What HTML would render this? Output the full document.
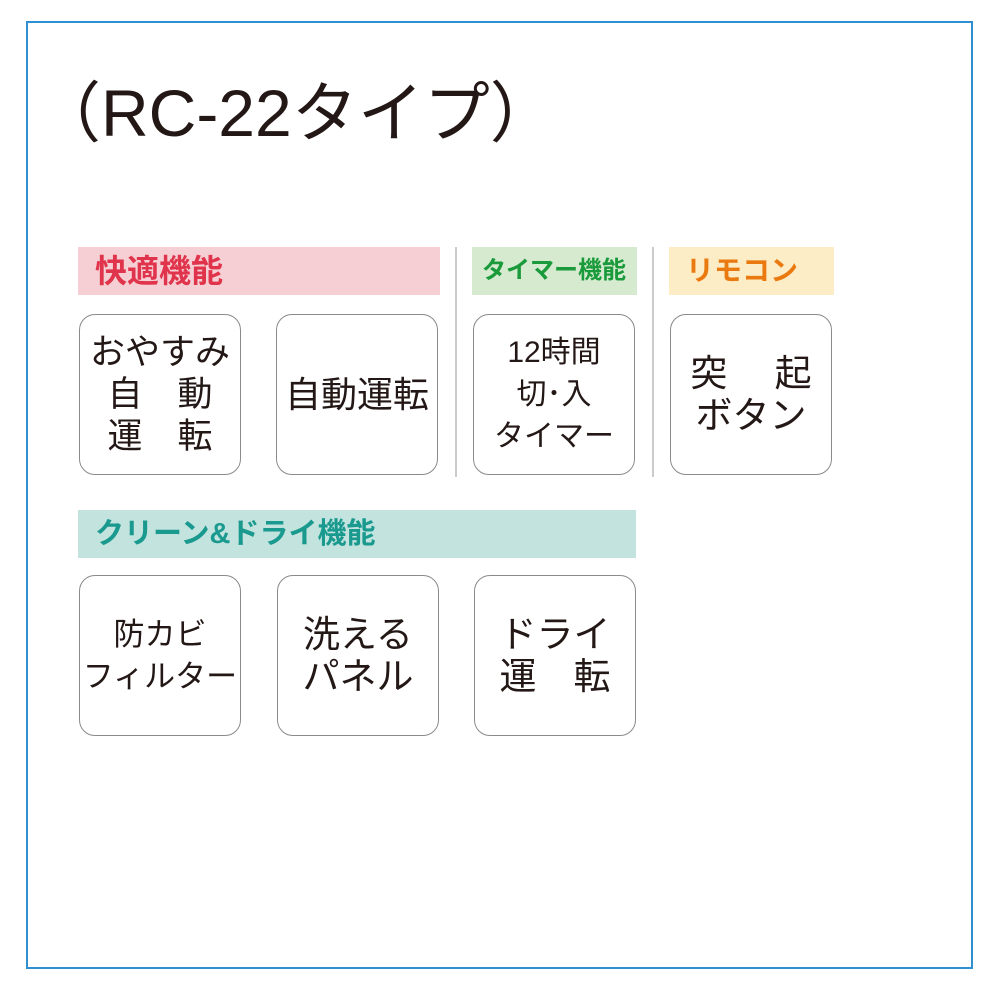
<!DOCTYPE html>
<html><head><meta charset="utf-8"><style>
body{margin:0;width:1000px;height:1000px;background:#fff;position:relative;font-family:"Liberation Sans","Noto Sans CJK JP",sans-serif;overflow:hidden}
.a{position:absolute;box-sizing:border-box}
.frame{left:26px;top:21px;width:947px;height:948px;border:2px solid #2f8fd0}
.h{font-weight:bold;line-height:48px;height:48px;padding-left:17px;white-space:nowrap}
.b{border:1.5px solid #8a8a8a;border-radius:16px;width:162px;height:161px;display:flex;align-items:center;justify-content:center;text-align:center;color:#231815;font-size:35px;line-height:42px}
.v{width:2px;background:#ccc;top:247px;height:230px}
</style></head><body>
<div class="a frame"></div>
<div class="a" style="left:35px;top:73px;font-size:66px;line-height:80px;color:#231815;white-space:nowrap">（RC-22タイプ）</div>
<div class="a h" style="left:78px;top:247px;width:362px;background:#f5cfd3;color:#e0344c;font-size:32px">快適機能</div>
<div class="a h" style="left:472px;top:247px;width:165px;background:#d6ead0;color:#1a9a3a;padding-left:10px;font-size:24px">タイマー機能</div>
<div class="a h" style="left:669px;top:247px;width:165px;background:#fdedc6;color:#ea7a10;font-size:28px">リモコン</div>
<div class="a h" style="left:78px;top:510px;width:558px;background:#c3e3df;color:#1a9a8e;font-size:29px">クリーン&amp;ドライ機能</div>
<div class="a v" style="left:455px"></div>
<div class="a v" style="left:652px"></div>
<div class="a b" style="left:79px;top:314px">おやすみ<br>自　動<br>運　転</div>
<div class="a b" style="left:276px;top:314px;font-size:36px">自動運転</div>
<div class="a b" style="left:473px;top:314px;font-size:30px;line-height:42px">12時間<br>切･入<br>タイマー</div>
<div class="a b" style="left:670px;top:314px;font-size:37px">突　 起<br>ボタン</div>
<div class="a b" style="left:79px;top:575px;font-size:31px">防カビ<br>フィルター</div>
<div class="a b" style="left:277px;top:575px;font-size:37px">洗える<br>パネル</div>
<div class="a b" style="left:474px;top:575px;font-size:37px">ドライ<br>運　転</div>
</body></html>
